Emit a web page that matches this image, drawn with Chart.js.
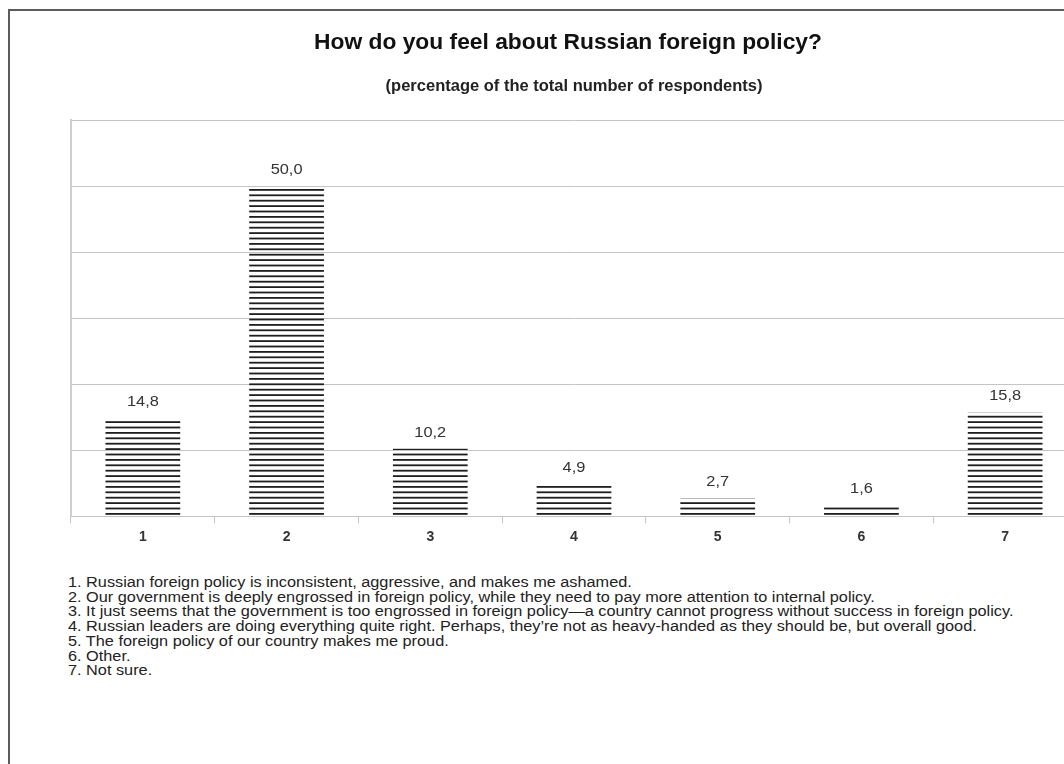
<!DOCTYPE html>
<html>
<head>
<meta charset="utf-8">
<script src="https://cdn.jsdelivr.net/npm/chart.js@4/dist/chart.umd.min.js"></script>
<style>
  html, body { margin: 0; padding: 0; background: #fff; overflow: hidden; width: 1064px; height: 764px; }
  #frame { position: absolute; left: 8px; top: 9px; width: 1200px; height: 800px;
           border-left: 2px solid #5b5b5b; border-top: 2px solid #5b5b5b; }
  #wrap { position: absolute; left: 0; top: 0; width: 1136px; height: 560px; }
  #notes { position: absolute; left: 68px; top: 575px; font-family: "Liberation Sans", Arial, sans-serif;
           font-size: 14px; line-height: 14.7px; color: #222; white-space: nowrap;
           transform: scaleX(1.163); transform-origin: 0 0; }
</style>
</head>
<body>
<div id="frame"></div>
<div id="wrap"><canvas id="chart" width="1136" height="560"></canvas></div>
<div id="notes"></div>
<script>
var categories = ["1", "2", "3", "4", "5", "6", "7"];
var percentValues = [14.8, 50.0, 10.2, 4.9, 2.7, 1.6, 15.8];
var answerTexts = [
    "Russian foreign policy is inconsistent, aggressive, and makes me ashamed.",
    "Our government is deeply engrossed in foreign policy, while they need to pay more attention to internal policy.",
    "It just seems that the government is too engrossed in foreign policy\u2014a country cannot progress without success in foreign policy.",
    "Russian leaders are doing everything quite right. Perhaps, they\u2019re not as heavy-handed as they should be, but overall good.",
    "The foreign policy of our country makes me proud.",
    "Other.",
    "Not sure."
];
var chartTitle = "How do you feel about Russian foreign policy?";
var chartSubtitle = "(percentage of the total number of respondents)";

// Function to build the horizontal line fill used in the bars
function makeLinePattern() {
    var tile = document.createElement("canvas");
    tile.width = 8;
    tile.height = 27;
    var tctx = tile.getContext("2d");
    tctx.fillStyle = "#1e1e1e";
    for (var i = 0; i < 5; i++) {
        tctx.fillRect(0, i * 5.4, 8, 1.8);
    }
    return document.getElementById("chart").getContext("2d").createPattern(tile, "repeat");
}

// Value labels above each bar, with a comma as decimal mark
var valueLabels = {
    id: "valueLabels",
    afterDatasetsDraw: function(chart) {
        var ctx = chart.ctx;
        var meta = chart.getDatasetMeta(0);
        ctx.save();
        ctx.font = "14px 'Liberation Sans', Arial, sans-serif";
        ctx.fillStyle = "#333";
        ctx.textAlign = "center";
        ctx.textBaseline = "middle";
        meta.data.forEach(function(bar, i) {
            var txt = percentValues[i].toFixed(1).replace(".", ",");
            ctx.save();
            ctx.translate(bar.x, bar.y - 16);
            ctx.scale(1.17, 1);
            ctx.fillText(txt, 0, 0);
            ctx.restore();
        });
        ctx.restore();
    }
};

document.getElementById("notes").innerHTML = answerTexts.map(function(t, i) {
    return (i + 1) + ". " + t;
}).join("<br>");

new Chart(document.getElementById("chart"), {
    type: "bar",
    data: {
        labels: categories,
        datasets: [{
            data: percentValues,
            backgroundColor: makeLinePattern(),
            borderWidth: 0,
            barPercentage: 0.52,
            categoryPercentage: 1.0
        }]
    },
    options: {
        responsive: false,
        devicePixelRatio: 1,
        animation: false,
        layout: { padding: { left: 0, right: 0, top: 0, bottom: 8 } },
        plugins: {
            legend: { display: false },
            tooltip: { enabled: false },
            title: {
                display: true,
                text: chartTitle,
                color: "#111",
                font: { family: "'Liberation Sans', Arial, sans-serif", size: 22.8, weight: "bold" },
                padding: { top: 29, bottom: 9 }
            },
            subtitle: {
                display: true,
                text: chartSubtitle,
                color: "#222",
                fullSize: false,
                font: { family: "'Liberation Sans', Arial, sans-serif", size: 16.5, weight: "bold" },
                padding: { top: 11, bottom: 24 }
            }
        },
        scales: {
            x: {
                grid: { drawOnChartArea: false, drawTicks: true, tickLength: 7, color: "#c4c4c4", offset: true },
                border: { display: true, color: "#c4c4c4", width: 1 },
                ticks: {
                    padding: 6,
                    color: "#333",
                    font: { family: "'Liberation Sans', Arial, sans-serif", size: 14, weight: "bold" }
                }
            },
            y: {
                min: 0,
                max: 60,
                ticks: { display: false, stepSize: 10 },
                grid: { drawTicks: false, color: "#c4c4c4", lineWidth: 1 },
                border: { display: true, color: "#cfcfcf", width: 2 },
                afterFit: function(scale) { scale.width = 71; }
            },
            yRight: {
                position: "right",
                min: 0,
                max: 60,
                ticks: { display: false },
                grid: { display: false, drawTicks: false },
                border: { display: false },
                afterFit: function(scale) { scale.width = 59; }
            }
        }
    },
    plugins: [valueLabels]
});
</script>
</body>
</html>
